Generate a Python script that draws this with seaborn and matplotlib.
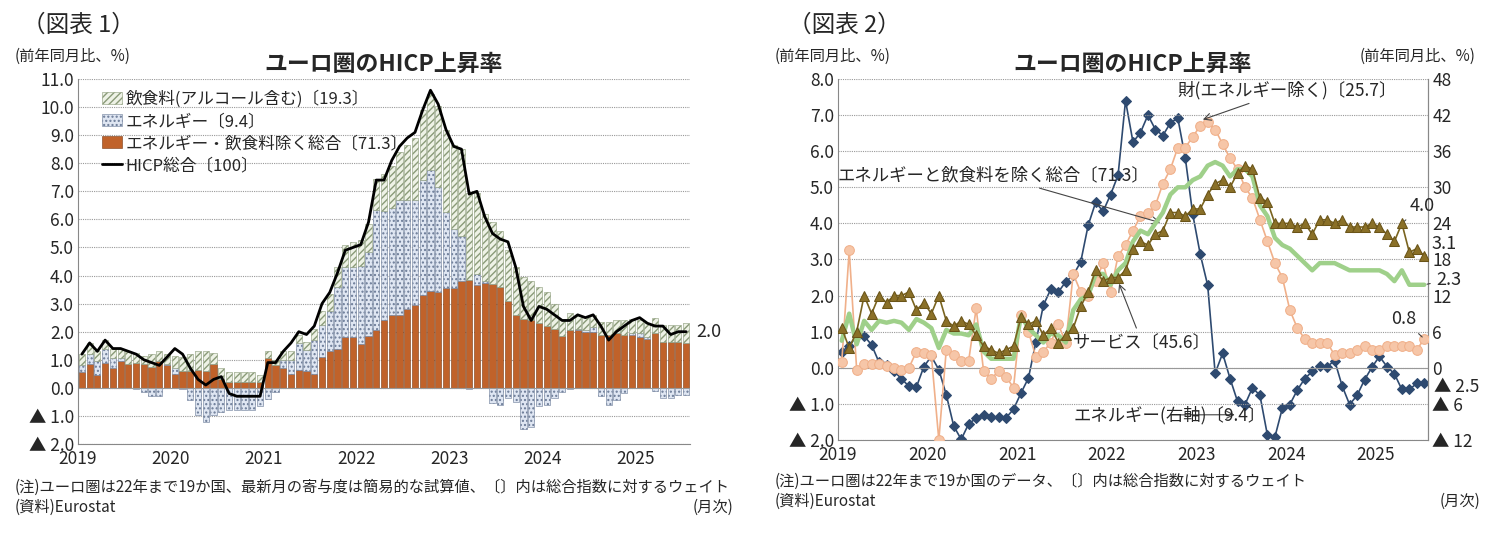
import numpy as np
import pandas as pd
import matplotlib
matplotlib.use("Agg")
import matplotlib.pyplot as plt
import seaborn as sns

sns.set_style("white")
plt.rcParams["font.family"] = ["Noto Sans CJK JP", "DejaVu Sans"]

years = ["2019", "2020", "2021", "2022", "2023", "2024", "2025"]

# ---- Chart 1 data (contributions, % pts) ----
hicp = [1.2,1.6,1.3,1.7,1.4,1.4,1.3,1.2,1.0,0.9,0.8,1.1,
        1.4,1.2,0.7,0.3,0.1,0.3,0.4,-0.2,-0.3,-0.3,-0.3,-0.3,
        0.9,0.9,1.3,1.6,2.0,1.9,2.2,3.0,3.4,4.1,4.9,5.0,
        5.1,5.9,7.4,7.4,8.1,8.6,8.9,9.1,9.9,10.6,10.1,9.2,
        8.6,8.5,6.9,7.0,6.1,5.5,5.3,5.2,4.3,2.9,2.4,2.9,
        2.8,2.6,2.4,2.4,2.6,2.5,2.6,2.2,1.7,2.0,2.2,2.4,
        2.5,2.3,2.2,2.2,1.9,2.0,2.0]
core_c = [0.55,0.85,0.45,0.9,0.7,0.95,0.85,0.9,0.85,0.75,0.95,0.8,
          0.5,0.6,0.6,0.65,0.6,0.85,0.3,0.2,0.2,0.2,0.2,0.2,
          1.05,0.8,0.7,0.5,0.65,0.6,0.5,1.1,1.3,1.4,1.8,1.8,
          1.55,1.85,2.05,2.4,2.6,2.6,2.8,2.95,3.3,3.45,3.4,3.55,
          3.55,3.8,3.85,3.65,3.75,3.7,3.6,3.1,2.6,2.45,2.4,2.3,
          2.2,2.1,1.85,2.05,2.05,2.0,2.0,1.9,1.9,1.95,1.9,1.9,
          1.8,1.75,1.95,1.65,1.65,1.65,1.6]
energy_c = [0.25,0.35,0.5,0.5,0.35,0.1,0.0,-0.05,-0.15,-0.3,-0.3,0.05,
            0.2,-0.05,-0.45,-0.95,-1.2,-0.95,-0.85,-0.8,-0.8,-0.8,-0.8,-0.65,
            -0.4,-0.15,0.3,0.5,0.95,0.75,1.2,1.15,1.45,2.2,2.5,2.5,
            2.8,3.0,4.3,3.9,3.8,4.1,3.9,3.75,4.1,4.3,3.75,2.7,
            2.1,1.6,-0.05,0.4,0.05,-0.55,-0.6,-0.35,-0.5,-1.45,-1.4,-0.65,
            -0.6,-0.35,-0.15,-0.05,0.05,0.05,0.15,-0.3,-0.6,-0.45,-0.2,0.05,
            0.15,0.05,-0.1,-0.35,-0.35,-0.25,-0.25]
food_c = [0.4,0.4,0.35,0.3,0.35,0.35,0.45,0.35,0.3,0.45,0.35,0.35,
          0.45,0.5,0.6,0.65,0.7,0.4,0.4,0.35,0.35,0.35,0.35,0.25,
          0.25,0.2,0.3,0.3,0.3,0.3,0.4,0.5,0.6,0.7,0.8,0.9,
          0.9,1.0,1.1,1.3,1.5,1.7,1.95,2.2,2.5,2.7,2.9,2.95,
          3.0,3.1,3.1,2.9,2.4,2.2,2.0,1.8,1.7,1.5,1.4,1.3,
          1.2,0.9,0.6,0.6,0.5,0.5,0.45,0.45,0.45,0.45,0.5,0.5,
          0.45,0.5,0.55,0.6,0.6,0.6,0.7]

# ---- Chart 2 data (% y/y) ----
energy_yoy = [2.7,3.6,5.3,5.3,3.8,0.9,0.5,-0.6,-1.8,-3.1,-3.2,0.2,
              1.9,-0.3,-4.5,-9.7,-11.9,-9.3,-8.4,-7.8,-8.2,-8.2,-8.3,-6.9,
              -4.2,-1.7,4.3,10.4,13.1,12.6,14.3,15.4,17.6,23.7,27.5,26.0,
              28.8,32.0,44.4,37.5,39.1,42.0,39.6,38.6,40.7,41.5,34.9,25.5,
              18.9,13.7,-0.9,2.4,-1.8,-5.6,-6.1,-3.3,-4.6,-11.2,-11.5,-6.7,
              -6.1,-3.7,-1.8,-0.6,0.3,0.2,1.2,-3.0,-6.1,-4.6,-2.0,0.1,
              1.9,0.2,-1.0,-3.6,-3.6,-2.6,-2.5]
services = [1.1,0.55,1.0,2.0,1.5,2.0,1.8,2.0,2.0,2.1,1.6,1.8,
            1.5,2.0,1.3,1.15,1.3,1.2,0.9,0.6,0.5,0.4,0.5,0.6,
            1.4,1.2,1.3,0.9,1.1,0.7,0.9,1.1,1.7,2.1,2.7,2.4,
            2.5,2.5,2.7,3.3,3.5,3.4,3.7,3.8,4.3,4.3,4.2,4.4,
            4.4,4.8,5.1,5.2,5.0,5.4,5.6,5.5,4.7,4.6,4.0,4.0,
            4.0,3.9,4.0,3.7,4.1,4.1,4.0,4.1,3.9,3.9,3.9,4.0,
            3.9,3.7,3.5,4.0,3.2,3.3,3.1]
goods = [0.15,3.25,-0.05,0.1,0.1,0.1,0.05,0.0,-0.05,0.0,0.45,0.4,
         0.35,-2.0,0.5,0.35,0.2,0.2,1.65,-0.1,-0.3,-0.1,-0.25,-0.55,
         1.45,1.0,0.3,0.45,0.7,1.2,0.7,2.6,2.1,2.0,2.4,2.9,
         2.1,3.1,3.4,3.8,4.2,4.3,4.5,5.1,5.5,6.1,6.1,6.4,
         6.7,6.8,6.6,6.2,5.8,5.5,5.0,4.7,4.1,3.5,2.9,2.5,
         1.6,1.1,0.8,0.7,0.7,0.7,0.35,0.4,0.4,0.5,0.6,0.5,
         0.5,0.6,0.6,0.6,0.6,0.5,0.8]
core = [0.75,1.5,0.65,1.3,1.05,1.3,1.25,1.3,1.25,1.05,1.35,1.25,
        1.1,0.55,1.05,0.95,0.95,0.9,1.2,0.45,0.25,0.25,0.25,0.25,
        1.45,1.1,0.9,0.7,0.95,0.9,0.7,1.6,1.9,2.0,2.6,2.6,
        2.3,2.7,2.9,3.5,3.8,3.7,4.0,4.3,4.8,5.0,5.0,5.2,
        5.3,5.6,5.7,5.6,5.3,5.5,5.5,5.3,4.5,4.2,3.6,3.4,
        3.3,3.1,2.9,2.7,2.9,2.9,2.9,2.8,2.7,2.7,2.7,2.7,
        2.7,2.6,2.4,2.7,2.3,2.3,2.3]

n = len(hicp)
x = np.arange(n) + 0.5
df1 = pd.DataFrame({"x": x, "hicp": hicp})

def neg_fmt(v):
    return f"▲ {abs(v):.1f}" if v < -1e-9 else f"{v:.1f}"

fig = plt.figure(figsize=(15.02, 5.47), dpi=100)

# ================= Chart 1 =================
ax = fig.add_axes([78/1502, 1-444/547, (690-78)/1502, (444-79)/547])
core_a = np.array(core_c); en = np.array(energy_c); fd = np.array(food_c)
en_pos = np.where(en > 0, en, 0); en_neg = np.where(en < 0, en, 0)
ax.bar(x, core_a, width=0.8, color="#c0622a", edgecolor="#7a3a14", linewidth=0.4, label="エネルギー・飲食料除く総合〔71.3〕", zorder=2)
ax.bar(x, en_pos, bottom=core_a, width=0.8, color="#dfe6f2", edgecolor="#6a7a96", hatch="....", linewidth=0.4, zorder=2)
ax.bar(x, en_neg, width=0.8, color="#dfe6f2", edgecolor="#6a7a96", hatch="....", linewidth=0.4, zorder=2, label="エネルギー〔9.4〕")
ax.bar(x, fd, bottom=core_a+en_pos, width=0.8, color="#eef2e6", edgecolor="#8a9a78", hatch="/////", linewidth=0.4, zorder=2, label="飲食料(アルコール含む)〔19.3〕")
sns.lineplot(data=df1, x="x", y="hicp", ax=ax, color="black", linewidth=2, label="HICP総合〔100〕", zorder=3)
ax.set_xlim(0, n); ax.set_ylim(-2, 11)
ax.set_yticks(np.arange(-2, 11.01, 1))
ax.set_yticklabels([neg_fmt(v) for v in np.arange(-2, 11.01, 1)], fontsize=12.5)
ax.set_xticks(np.arange(0, n, 12)); ax.set_xticklabels(years, fontsize=12.5)
ax.set_xlabel(""); ax.set_ylabel("")
ax.grid(axis="y", color="#999999", linestyle=(0, (1, 1)), linewidth=0.8)
ax.axhline(0, color="#999999", linewidth=0.8)
for s in ["top", "right"]: ax.spines[s].set_visible(False)
ax.spines["left"].set_color("#888888"); ax.spines["bottom"].set_color("#888888")
ax.tick_params(axis="y", length=0, pad=3)
ax.tick_params(axis="x", length=0, pad=4)
h, l = ax.get_legend_handles_labels()
order = [l.index("飲食料(アルコール含む)〔19.3〕"), l.index("エネルギー〔9.4〕"), l.index("エネルギー・飲食料除く総合〔71.3〕"), l.index("HICP総合〔100〕")]
ax.legend([h[i] for i in order], [l[i] for i in order], loc="upper left", bbox_to_anchor=(0.02, 1.0),
          frameon=False, fontsize=12, handlelength=1.2, handletextpad=0.2, labelspacing=0.3, borderpad=0.2)
ax.text(n + 0.8, hicp[-1], "2.0", fontsize=13, va="center")
ax.set_title("ユーロ圏のHICP上昇率", fontsize=16.5, fontweight="bold", pad=6)

fig.text(22/1502, 1-25/547, "（図表 1）", fontsize=17, va="center")
fig.text(15/1502, 1-56/547, "(前年同月比、%)", fontsize=11, va="center")
fig.text(15/1502, 1-487/547, "(注)ユーロ圏は22年まで19か国、最新月の寄与度は簡易的な試算値、〔〕内は総合指数に対するウェイト", fontsize=11, va="center")
fig.text(15/1502, 1-507/547, "(資料)Eurostat", fontsize=11, va="center")
fig.text(693/1502, 1-507/547, "(月次)", fontsize=11, va="center")

# ================= Chart 2 =================
ax2 = fig.add_axes([838/1502, 1-440/547, (1428-838)/1502, (440-79)/547])
df2 = pd.DataFrame({"x": x, "services": services, "goods": goods, "core": core})
sns.lineplot(data=df2, x="x", y="goods", ax=ax2, color="#f0b08a", linewidth=1.2, marker="o", markersize=7,
             markeredgecolor="#f0b08a", markerfacecolor="#f6c6a8", zorder=3)
sns.lineplot(data=df2, x="x", y="core", ax=ax2, color="#9fd08a", linewidth=3.2, zorder=4)
sns.lineplot(data=df2, x="x", y="services", ax=ax2, color="#7a6420", linewidth=1.2, marker="^", markersize=7,
             markeredgecolor="#6a5418", markerfacecolor="#8a7028", zorder=5)
ax2.set_xlim(0, n); ax2.set_ylim(-2, 8)
ax2.set_yticks(np.arange(-2, 8.01, 1))
ax2.set_yticklabels([neg_fmt(v) for v in np.arange(-2, 8.01, 1)], fontsize=12.5)
ax2.set_xticks(np.arange(0, n, 12)); ax2.set_xticklabels(years, fontsize=12.5)
ax2.set_xlabel(""); ax2.set_ylabel("")
ax2.grid(axis="y", color="#999999", linestyle=(0, (1, 1)), linewidth=0.8)
ax2.axhline(0, color="#999999", linewidth=0.8)
ax2.spines["top"].set_visible(False)
for s in ["left", "bottom", "right"]: ax2.spines[s].set_color("#888888")
ax2.tick_params(axis="y", length=0, pad=3)
ax2.tick_params(axis="x", length=0, pad=4)

ax3 = ax2.twinx()
df3 = pd.DataFrame({"x": x, "energy": energy_yoy})
sns.lineplot(data=df3, x="x", y="energy", ax=ax3, color="#2e4a70", linewidth=1.2, marker="D", markersize=5,
             markeredgecolor="#2e4a70", markerfacecolor="#2e4a70", zorder=2)
ax3.set_ylim(-12, 48)
rt = np.arange(-12, 48.01, 6)
ax3.set_yticks(rt)
ax3.set_yticklabels([f"▲ {abs(int(v))}" if v < 0 else f"{int(v)}" for v in rt], fontsize=12.5)
ax3.set_ylabel(""); ax3.tick_params(length=0, pad=3)
for s in ["top", "left", "bottom"]: ax3.spines[s].set_visible(False)
ax3.spines["right"].set_color("#888888")
ax2.set_zorder(ax3.get_zorder() + 1); ax2.patch.set_visible(False)
ax3.text(1.01, -3.2, "▲ 2.5", transform=ax3.get_yaxis_transform(), fontsize=12.5, va="center")

ap = dict(arrowstyle="->", color="#444444", linewidth=0.8)
lp = dict(arrowstyle="-", color="#444444", linewidth=0.8)
ax2.annotate("財(エネルギー除く)〔25.7〕", xy=(x[48], 6.85), xytext=(x[45], 7.55), fontsize=12.5, arrowprops=ap)
ax2.annotate("エネルギーと飲食料を除く総合〔71.3〕", xy=(x[43], 4.0), xytext=(x[0] - 0.5, 5.2), fontsize=12.5, arrowprops=ap)
ax2.annotate("サービス〔45.6〕", xy=(x[37], 2.4), xytext=(x[31], 0.55), fontsize=12.5, arrowprops=ap)
ax2.annotate("エネルギー(右軸)〔9.4〕", xy=(x[53], -1.3), xytext=(x[31], -1.45), fontsize=12.5, arrowprops=ap)
ax2.annotate("4.0", xy=(x[75], 4.0), xytext=(x[76], 4.35), fontsize=13, arrowprops=lp)
ax2.annotate("3.1", xy=(x[78], 3.1), xytext=(x[78] + 1.0, 3.3), fontsize=13, arrowprops=lp)
ax2.annotate("2.3", xy=(x[78], 2.3), xytext=(x[78] + 1.6, 2.3), fontsize=13, arrowprops=lp)
ax2.annotate("0.8", xy=(x[78], 0.8), xytext=(x[74] - 0.5, 1.2), fontsize=13, arrowprops=lp)
ax2.set_title("ユーロ圏のHICP上昇率", fontsize=16.5, fontweight="bold", pad=6)

fig.text(788/1502, 1-25/547, "（図表 2）", fontsize=17, va="center")
fig.text(775/1502, 1-56/547, "(前年同月比、%)", fontsize=11, va="center")
fig.text(1360/1502, 1-56/547, "(前年同月比、%)", fontsize=11, va="center")
fig.text(775/1502, 1-481/547, "(注)ユーロ圏は22年まで19か国のデータ、〔〕内は総合指数に対するウェイト", fontsize=11, va="center")
fig.text(775/1502, 1-501/547, "(資料)Eurostat", fontsize=11, va="center")
fig.text(1440/1502, 1-501/547, "(月次)", fontsize=11, va="center")

fig.savefig("out.png", dpi=100, facecolor="white")
